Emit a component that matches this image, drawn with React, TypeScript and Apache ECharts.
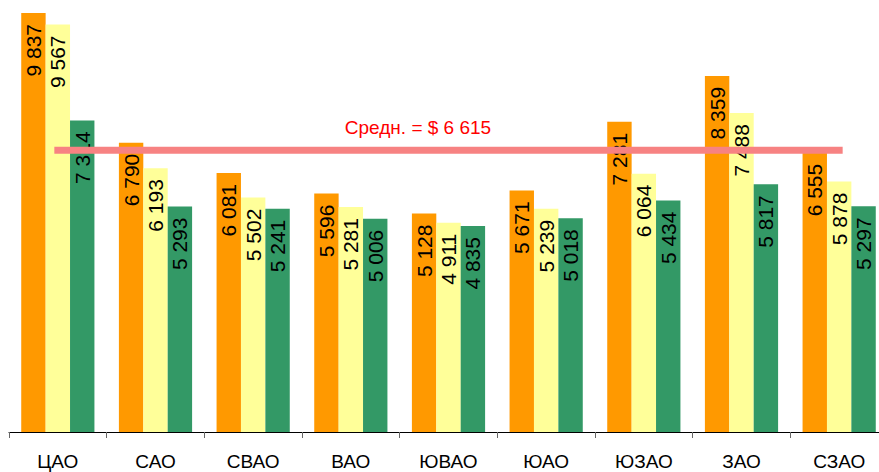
import React, { useEffect, useRef } from "react";
import * as echarts from "echarts";

const categories = ["ЦАО", "САО", "СВАО", "ВАО", "ЮВАО", "ЮАО", "ЮЗАО", "ЗАО", "СЗАО"];
const seriesA = [9837, 6790, 6081, 5596, 5128, 5671, 7281, 8359, 6555];
const seriesB = [9567, 6193, 5502, 5281, 4911, 5239, 6064, 7488, 5878];
const seriesC = [7314, 5293, 5241, 5006, 4835, 5018, 5434, 5817, 5297];
const average = 6615;
const averageLabel = "Средн. = $ ";

const fmt = (v: number) => String(Math.round(v)).replace(/\B(?=(\d{3})+(?!\d))/g, " ");

export default function App() {
  const ref = useRef<HTMLDivElement>(null);
  useEffect(() => {
    if (!ref.current) return;
    const chart = echarts.init(ref.current, undefined, { renderer: "svg" });
    const font = "'Liberation Sans', Arial, sans-serif";
    const barLabel = {
      show: true,
      position: "insideTop" as const,
      rotate: 90,
      align: "right" as const,
      verticalAlign: "middle" as const,
      distance: 11,
      color: "#000",
      fontSize: 21,
      fontFamily: font,
      formatter: (p: any) => fmt(p.value),
    };
    const mk = (name: string, data: number[], color: string) => ({
      name,
      type: "bar" as const,
      data,
      barWidth: 24.4,
      barGap: "0%",
      itemStyle: { color },
      label: barLabel,
    });
    chart.setOption({
      animation: false,
      grid: { left: 9, top: 6, width: 879, height: 426, containLabel: false },
      xAxis: {
        type: "category",
        data: categories,
        axisLine: { lineStyle: { color: "#000", width: 1 } },
        axisTick: { show: true, length: 6, lineStyle: { color: "#666" } },
        axisLabel: { color: "#000", fontSize: 19, fontFamily: font, margin: 20, interval: 0 },
      },
      yAxis: {
        type: "value",
        min: 0,
        max: 10000,
        show: false,
        splitLine: { show: false },
      },
      series: [
        mk("A", seriesA, "#FF9900"),
        mk("B", seriesB, "#FFFF99"),
        mk("C", seriesC, "#339966"),
        {
          name: "avg",
          type: "line",
          data: categories.map(() => average),
          symbol: "none",
          z: 5,
          lineStyle: { color: "#F78282", width: 7, cap: "square" },
        },
      ],
      graphic: [
        {
          type: "text",
          x: 418,
          y: 127,
          style: {
            text: averageLabel + fmt(average),
            fill: "#FF0000",
            fontSize: 19,
            fontFamily: font,
            align: "center",
            verticalAlign: "middle",
          },
        },
      ],
    });
    return () => chart.dispose();
  }, []);
  return (
    <div
      ref={ref}
      style={{ position: "fixed", left: 0, top: 0, width: 900, height: 472, background: "#fff" }}
    />
  );
}
